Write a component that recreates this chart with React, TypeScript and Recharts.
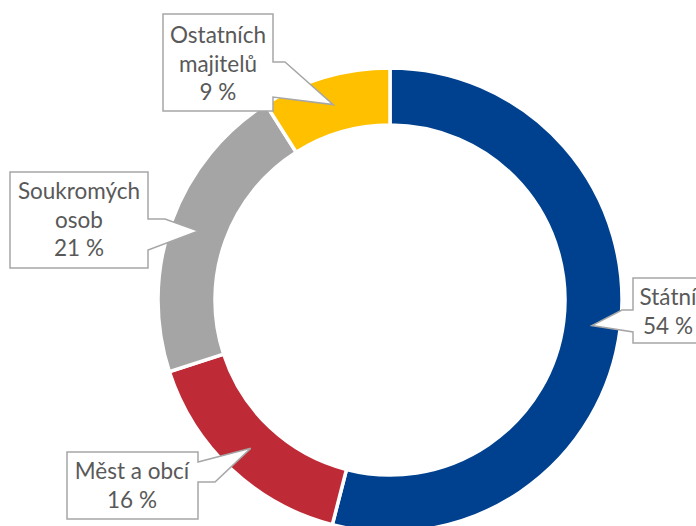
import { PieChart, Pie, Cell } from "recharts";

const owners = ["Státní", "Měst a obcí", "Soukromých osob", "Ostatních majitelů"];
const shares = [54, 16, 21, 9];
const labelLines = [["Státní"], ["Měst a obcí"], ["Soukromých", "osob"], ["Ostatních", "majitelů"]];
const colors = ["#00418F", "#BE2A35", "#A5A5A5", "#FFC000"];

const data = owners.map((name, i) => ({ name, value: shares[i] }));

// callout boxes (Excel style), pointer tip comes from the slice angle
type Callout = {
  x: number;
  y: number;
  w: number;
  h: number;
  side: "left" | "right";
  before: number[][];
  after: number[][];
  tx: number;
  ty: number;
};

const callouts: Callout[] = [
  { x: 633, y: 278, w: 90, h: 65, side: "left", before: [[633, 332]], after: [[622, 310], [633, 310]], tx: 668, ty: 305 },
  { x: 67, y: 452, w: 131, h: 67, side: "right", before: [[198, 462]], after: [[215, 482], [198, 482]], tx: 132, ty: 479 },
  { x: 10, y: 172, w: 138, h: 96, side: "right", before: [[148, 219], [165, 219]], after: [[148, 250]], tx: 79, ty: 199 },
  { x: 163, y: 14, w: 110, h: 97, side: "right", before: [[273, 62], [285, 62]], after: [[273, 97]], tx: 218, ty: 43 },
];

const RAD = Math.PI / 180;

const renderCallout = (props: any) => {
  const { cx, cy, midAngle, innerRadius, outerRadius, index, value } = props;
  const c = callouts[index];
  const r = (innerRadius + outerRadius) / 2;
  const tip = [cx + r * Math.cos(-midAngle * RAD), cy + r * Math.sin(-midAngle * RAD)];
  const pts = (arr: number[][]) => arr.map((p) => `L${p[0]},${p[1]}`).join(" ");
  const mid = `${pts(c.before)} L${tip[0]},${tip[1]} ${pts(c.after)}`;
  const d =
    c.side === "right"
      ? `M${c.x},${c.y} L${c.x + c.w},${c.y} ${mid} L${c.x + c.w},${c.y + c.h} L${c.x},${c.y + c.h} Z`
      : `M${c.x},${c.y} L${c.x + c.w},${c.y} L${c.x + c.w},${c.y + c.h} L${c.x},${c.y + c.h} ${mid} Z`;
  const lines = [...labelLines[index], `${value} %`];
  return (
    <g key={`callout-${index}`}>
      <path d={d} fill="#fff" stroke="#A6A6A6" strokeWidth={1.5} strokeLinejoin="miter" />
      {lines.map((t, i) => (
        <text
          key={i}
          x={c.tx}
          y={c.ty + i * 28.5}
          textAnchor="middle"
          fill="#595959"
          fontSize={22.5}
          fontFamily="Lato, 'Open Sans', sans-serif"
        >
          {t}
        </text>
      ))}
    </g>
  );
};

export default function App() {
  return (
    <div style={{ position: "absolute", top: 0, left: 0, width: 696, height: 526, background: "#fff" }}>
      <PieChart width={696} height={526} margin={{ top: 0, right: 0, bottom: 0, left: 0 }} style={{ overflow: "hidden" }}>
        <Pie
          data={data}
          dataKey="value"
          nameKey="name"
          cx={390}
          cy={300}
          outerRadius={232}
          innerRadius={175}
          startAngle={90}
          endAngle={-270}
          stroke="#fff"
          strokeWidth={3.5}
          label={renderCallout}
          labelLine={false}
          isAnimationActive={false}
        >
          {data.map((d, i) => (
            <Cell key={d.name} fill={colors[i]} />
          ))}
        </Pie>
      </PieChart>
    </div>
  );
}
